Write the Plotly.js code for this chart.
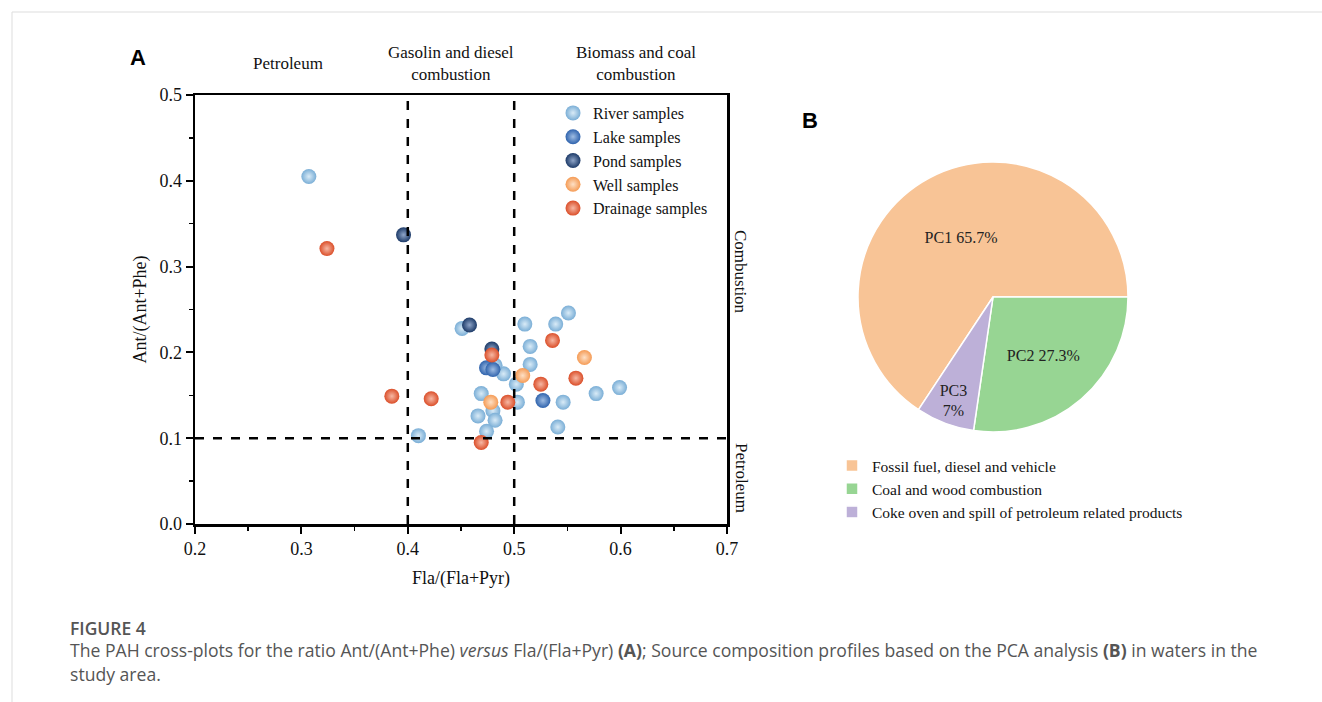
<!DOCTYPE html>
<html>
<head>
<meta charset="utf-8">
<script src="https://cdn.plot.ly/plotly-3.0.1.min.js"></script>
<style>html,body{margin:0;padding:0;background:#fff;}#chart{width:1322px;height:702px;}</style>
</head>
<body>
<div id="chart"></div>
<script>
// ---- Data (panel A) ----
const riverX = [0.307, 0.451, 0.510, 0.539, 0.551, 0.515, 0.515, 0.490, 0.502, 0.469, 0.503, 0.546, 0.577, 0.599, 0.480, 0.466, 0.482, 0.474, 0.541, 0.410, 0.482];
const riverY = [0.405, 0.228, 0.233, 0.233, 0.246, 0.207, 0.186, 0.175, 0.163, 0.152, 0.142, 0.142, 0.152, 0.159, 0.132, 0.126, 0.121, 0.108, 0.113, 0.103, 0.185];
const lakeX = [0.474, 0.480, 0.527];
const lakeY = [0.182, 0.180, 0.144];
const pondX = [0.396, 0.458, 0.479];
const pondY = [0.337, 0.232, 0.204];
const wellX = [0.566, 0.508, 0.478];
const wellY = [0.194, 0.173, 0.142];
const drainX = [0.324, 0.385, 0.422, 0.479, 0.536, 0.525, 0.558, 0.494, 0.469];
const drainY = [0.321, 0.149, 0.146, 0.197, 0.214, 0.163, 0.170, 0.142, 0.095];
const seriesNames = ["River samples", "Lake samples", "Pond samples", "Well samples", "Drainage samples"];
const xTicks = [0.2, 0.3, 0.4, 0.5, 0.6, 0.7];
const yTicks = [0.0, 0.1, 0.2, 0.3, 0.4, 0.5];
const thresholdX = [0.4, 0.5];
const thresholdY = [0.1];

// ---- Data (panel B) ----
const pcLabels = ["Fossil fuel, diesel and vehicle", "Coal and wood combustion", "Coke oven and spill of petroleum related products"];
const pcValues = [65.7, 27.3, 7.0];
const pcText = ["PC1 65.7%", "PC2 27.3%", "PC3<br>7%"];

const serif = "Liberation Serif, Times New Roman, serif";
const sans = "Open Sans, Noto Sans, sans-serif";

function sphere(x, y, name, col, hi) {
  return {
    type: "scatter", mode: "markers", x: x, y: y, name: name,
    xaxis: "x", yaxis: "y", legend: "legend",
    marker: {size: 15, color: col, gradient: {type: "radial", color: hi}, line: {width: 0}}
  };
}

const traces = [
  sphere(riverX, riverY, seriesNames[0], "#7aaed6", "#d9ebf7"),
  sphere(lakeX, lakeY, seriesNames[1], "#2f63ad", "#9fbde3"),
  sphere(pondX, pondY, seriesNames[2], "#1c3a68", "#8fa5c8"),
  sphere(wellX, wellY, seriesNames[3], "#f59b55", "#fde0c6"),
  sphere(drainX, drainY, seriesNames[4], "#db4f2a", "#f6b8a4"),
  {
    type: "pie", labels: pcLabels, values: pcValues, text: pcText,
    textinfo: "text", textposition: "inside", insidetextorientation: "horizontal",
    sort: false, direction: "clockwise", rotation: -146.5,
    marker: {colors: ["#f8c496", "#97d593", "#bdb0d8"], line: {color: "#ffffff", width: 1.5}},
    textfont: {family: serif, size: 16, color: "#222"},
    domain: {x: [858 / 1322, 1128 / 1322], y: [(702 - 432) / 702, (702 - 162) / 702]},
    legend: "legend2", hoverinfo: "label+percent"
  }
];

const shapes = [];
thresholdX.forEach(v => shapes.push({type: "line", xref: "x", yref: "y", x0: v, x1: v, y0: 0, y1: 0.5,
  line: {color: "#000", width: 2.5, dash: "dash"}}));
thresholdY.forEach(v => shapes.push({type: "line", xref: "x", yref: "y", x0: 0.2, x1: 0.7, y0: v, y1: v,
  line: {color: "#000", width: 2.5, dash: "dash"}}));
// page frame lines
shapes.push({type: "line", xref: "paper", yref: "paper", x0: 12/1322, x1: 1, y0: 1 - 12/702, y1: 1 - 12/702, line: {color: "#dddddd", width: 1}});
shapes.push({type: "line", xref: "paper", yref: "paper", x0: 12/1322, x1: 12/1322, y0: 0, y1: 1 - 12/702, line: {color: "#dddddd", width: 1}});

function px(x) { return x / 1322; }
function py(y) { return 1 - y / 702; }

const ann = (x, y, text, opts) => Object.assign({xref: "paper", yref: "paper", x: px(x), y: py(y), text: text,
  showarrow: false, xanchor: "center", yanchor: "middle", font: {family: serif, size: 17, color: "#111"}}, opts || {});

const capFont = {family: sans, size: 17.6, color: "#555"};
const annotations = [
  ann(138, 57, "<b>A</b>", {font: {family: "Liberation Sans, Arial, sans-serif", size: 22, color: "#000"}}),
  ann(810, 120, "<b>B</b>", {font: {family: "Liberation Sans, Arial, sans-serif", size: 22, color: "#000"}}),
  ann(288, 63, "Petroleum"),
  ann(451, 63, "Gasolin and diesel<br>combustion"),
  ann(636, 63, "Biomass and coal<br>combustion"),
  ann(741, 272, "Combustion", {textangle: 90}),
  ann(741, 478, "Petroleum", {textangle: 90}),
  ann(68, 628, "FIGURE 4", {xanchor: "left", font: {family: sans, size: 17.5, color: "#555", weight: 600}}),
  ann(68, 650, "The PAH cross-plots for the ratio Ant/(Ant+Phe) <i>versus</i> Fla/(Fla+Pyr) <b>(A)</b>; Source composition profiles based on the PCA analysis <b>(B)</b> in waters in the", {xanchor: "left", font: capFont}),
  ann(68, 674, "study area.", {xanchor: "left", font: capFont})
];

const layout = {
  width: 1322, height: 702,
  margin: {l: 0, r: 0, t: 0, b: 0},
  paper_bgcolor: "#fff", plot_bgcolor: "#fff",
  font: {family: serif, color: "#111"},
  xaxis: {
    domain: [px(195), px(727)], range: [0.2, 0.7], tickvals: xTicks, tickformat: ".1f",
    showgrid: false, zeroline: false, showline: true, linecolor: "#000", linewidth: 2.5, mirror: true,
    ticks: "outside", ticklen: 7, tickwidth: 2, tickcolor: "#000",
    minor: {dtick: 0.05, ticks: "outside", ticklen: 4, tickwidth: 1.5, tickcolor: "#000"},
    tickfont: {family: serif, size: 18, color: "#111"},
    title: {text: "Fla/(Fla+Pyr)", font: {family: serif, size: 18, color: "#111"}, standoff: 14},
    anchor: "y", fixedrange: true
  },
  yaxis: {
    domain: [py(524), py(95)], range: [0, 0.5], tickvals: yTicks, tickformat: ".1f",
    showgrid: false, zeroline: false, showline: true, linecolor: "#000", linewidth: 2.5, mirror: true,
    ticks: "outside", ticklen: 7, tickwidth: 2, tickcolor: "#000",
    minor: {dtick: 0.05, ticks: "outside", ticklen: 4, tickwidth: 1.5, tickcolor: "#000"},
    tickfont: {family: serif, size: 18, color: "#111"},
    title: {text: "Ant/(Ant+Phe)", font: {family: serif, size: 18, color: "#111"}, standoff: 8},
    anchor: "x", fixedrange: true
  },
  legend: {
    x: px(553), y: py(96), xanchor: "left", yanchor: "top",
    bgcolor: "rgba(0,0,0,0)", font: {family: serif, size: 16, color: "#111"},
    tracegroupgap: 0, itemwidth: 30
  },
  legend2: {
    x: px(832), y: py(449), xanchor: "left", yanchor: "top",
    bgcolor: "rgba(0,0,0,0)", font: {family: serif, size: 15.5, color: "#111"}
  },
  shapes: shapes,
  annotations: annotations,
  showlegend: true
};

Plotly.newPlot("chart", traces, layout, {displayModeBar: false, staticPlot: true});
</script>
</body>
</html>
